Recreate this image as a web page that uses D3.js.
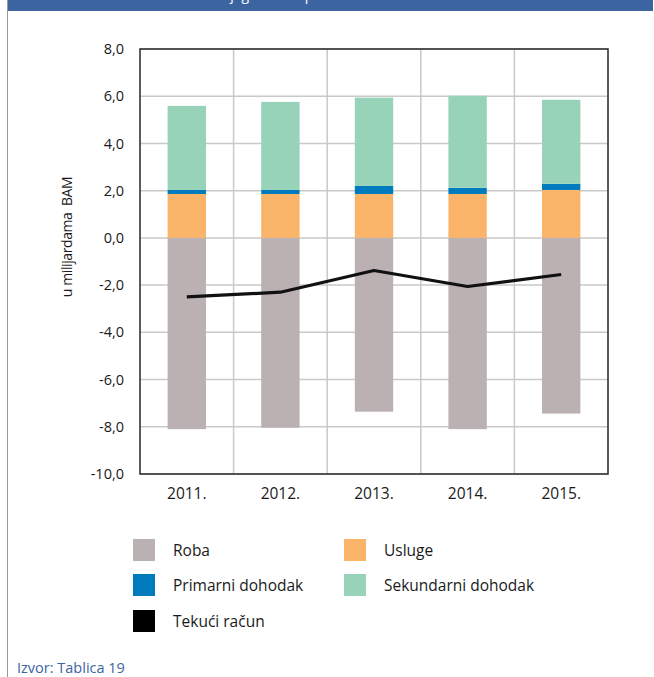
<!DOCTYPE html>
<html>
<head>
<meta charset="utf-8">
<script src="https://cdn.jsdelivr.net/npm/d3@7"></script>
<style>
  html, body { margin: 0; padding: 0; background: #ffffff; }
  svg { display: block; }
  text { font-family: "Open Sans", "Noto Sans", sans-serif; }
</style>
</head>
<body>
<svg id="chart" width="654" height="677"></svg>
<script>
const years = ["2011.", "2012.", "2013.", "2014.", "2015."];
const roba = [-8.10, -8.04, -7.36, -8.10, -7.44];
const usluge = [1.86, 1.86, 1.86, 1.86, 2.03];
const primarni = [0.17, 0.17, 0.34, 0.26, 0.26];
const sekundarni = [3.56, 3.73, 3.74, 3.90, 3.56];
const tekuci = [-2.50, -2.30, -1.38, -2.06, -1.55];
const yTicks = [8, 6, 4, 2, 0, -2, -4, -6, -8, -10];
const seriesNames = ["Roba", "Usluge", "Primarni dohodak", "Sekundarni dohodak", "Tekući račun"];
const colors = ["#bbb0b2", "#f9b46a", "#007bbd", "#96d3b9", "#000000"];

const svg = d3.select("#chart");
const W = 654, H = 677;

// frame decoration
svg.append("rect").attr("x", 0).attr("y", 0).attr("width", W).attr("height", H).attr("fill", "#ffffff");
svg.append("rect").attr("x", 7).attr("y", 0).attr("width", 646).attr("height", 11).attr("fill", "#3c64a0");
svg.append("line").attr("x1", 7.5).attr("x2", 7.5).attr("y1", 0).attr("y2", H).attr("stroke", "#9a9a9a").attr("stroke-width", 1);
svg.append("text").attr("x", 128).attr("y", 0).attr("fill", "#ffffff").attr("font-size", 14)
  .text("Tekući račun i njegove komponente");

const pL = 140, pR = 608, pT = 49, pB = 474;
const x = d3.scaleBand().domain(years).range([pL, pR]).paddingInner(0).paddingOuter(0);
const y = d3.scaleLinear().domain([-10, 8]).range([pB, pT]);
const barW = x.bandwidth() * 0.41;

// grid
const g = svg.append("g");
g.selectAll("line.h").data(yTicks).join("line")
  .attr("x1", pL).attr("x2", pR)
  .attr("y1", d => y(d)).attr("y2", d => y(d))
  .attr("stroke", "#c9c9c9").attr("stroke-width", 1.5);
g.selectAll("line.v").data(years.slice(1)).join("line")
  .attr("x1", d => x(d)).attr("x2", d => x(d))
  .attr("y1", pT).attr("y2", pB)
  .attr("stroke", "#c9c9c9").attr("stroke-width", 1.5);

// stacked bars
function stackSegs(i) {
  const segs = [];
  segs.push({ y0: roba[i], y1: 0, c: colors[0] });
  let base = 0;
  [[usluge, 1], [primarni, 2], [sekundarni, 3]].forEach(([arr, ci]) => {
    segs.push({ y0: base, y1: base + arr[i], c: colors[ci] });
    base += arr[i];
  });
  return segs;
}
years.forEach((yr, i) => {
  const cx = x(yr) + x.bandwidth() / 2;
  svg.append("g").selectAll("rect").data(stackSegs(i)).join("rect")
    .attr("x", cx - barW / 2).attr("width", barW)
    .attr("y", s => y(Math.max(s.y0, s.y1)))
    .attr("height", s => Math.abs(y(s.y0) - y(s.y1)))
    .attr("fill", s => s.c);
});

// line
const line = d3.line().x((d, i) => x(years[i]) + x.bandwidth() / 2).y(d => y(d));
svg.append("path").datum(tekuci).attr("d", line)
  .attr("fill", "none").attr("stroke", "#111").attr("stroke-width", 3.2).attr("stroke-linejoin", "round");

// frame
svg.append("rect").attr("x", pL).attr("y", pT).attr("width", pR - pL).attr("height", pB - pT)
  .attr("fill", "none").attr("stroke", "#333").attr("stroke-width", 1.6);

// axes labels
const fmt = d => d3.format(".1f")(d).replace(".", ",").replace("−", "-");
const yAxis = d3.axisLeft(y).tickValues(yTicks).tickFormat(fmt).tickSize(0).tickPadding(16);
const ya = svg.append("g").attr("transform", `translate(${pL},0)`).call(yAxis);
ya.select(".domain").remove();
ya.selectAll("text").attr("font-size", 14.5).attr("fill", "#1a1a1a").attr("font-family", "'Open Sans', sans-serif");

const xAxis = d3.axisBottom(x).tickSize(0).tickPadding(14);
const xa = svg.append("g").attr("transform", `translate(0,${pB})`).call(xAxis);
xa.select(".domain").remove();
xa.selectAll("text").attr("font-size", 15.5).attr("fill", "#1a1a1a").attr("font-family", "'Open Sans', sans-serif");

svg.append("text").attr("transform", "translate(72,237) rotate(-90)")
  .attr("text-anchor", "middle").attr("font-size", 14).attr("letter-spacing", -0.4).attr("fill", "#1a1a1a")
  .style("white-space", "pre").text("u milijardama\u00a0\u00a0BAM");

// legend
const legendPos = [
  { col: 0, row: 0 }, { col: 1, row: 0 }, { col: 0, row: 1 }, { col: 1, row: 1 }, { col: 0, row: 2 }
];
const colX = [133, 344], rowY = [539, 574, 610];
seriesNames.forEach((name, i) => {
  const p = legendPos[i];
  svg.append("rect").attr("x", colX[p.col]).attr("y", rowY[p.row]).attr("width", 22).attr("height", 22).attr("fill", colors[i]);
  svg.append("text").attr("x", colX[p.col] + 40).attr("y", rowY[p.row] + 16.5)
    .attr("font-size", 15.5).attr("fill", "#1a1a1a").text(name);
});

svg.append("text").attr("x", 17).attr("y", 673).attr("font-size", 14.5).attr("fill", "#3c64a0").text("Izvor: Tablica 19");
</script>
</body>
</html>
